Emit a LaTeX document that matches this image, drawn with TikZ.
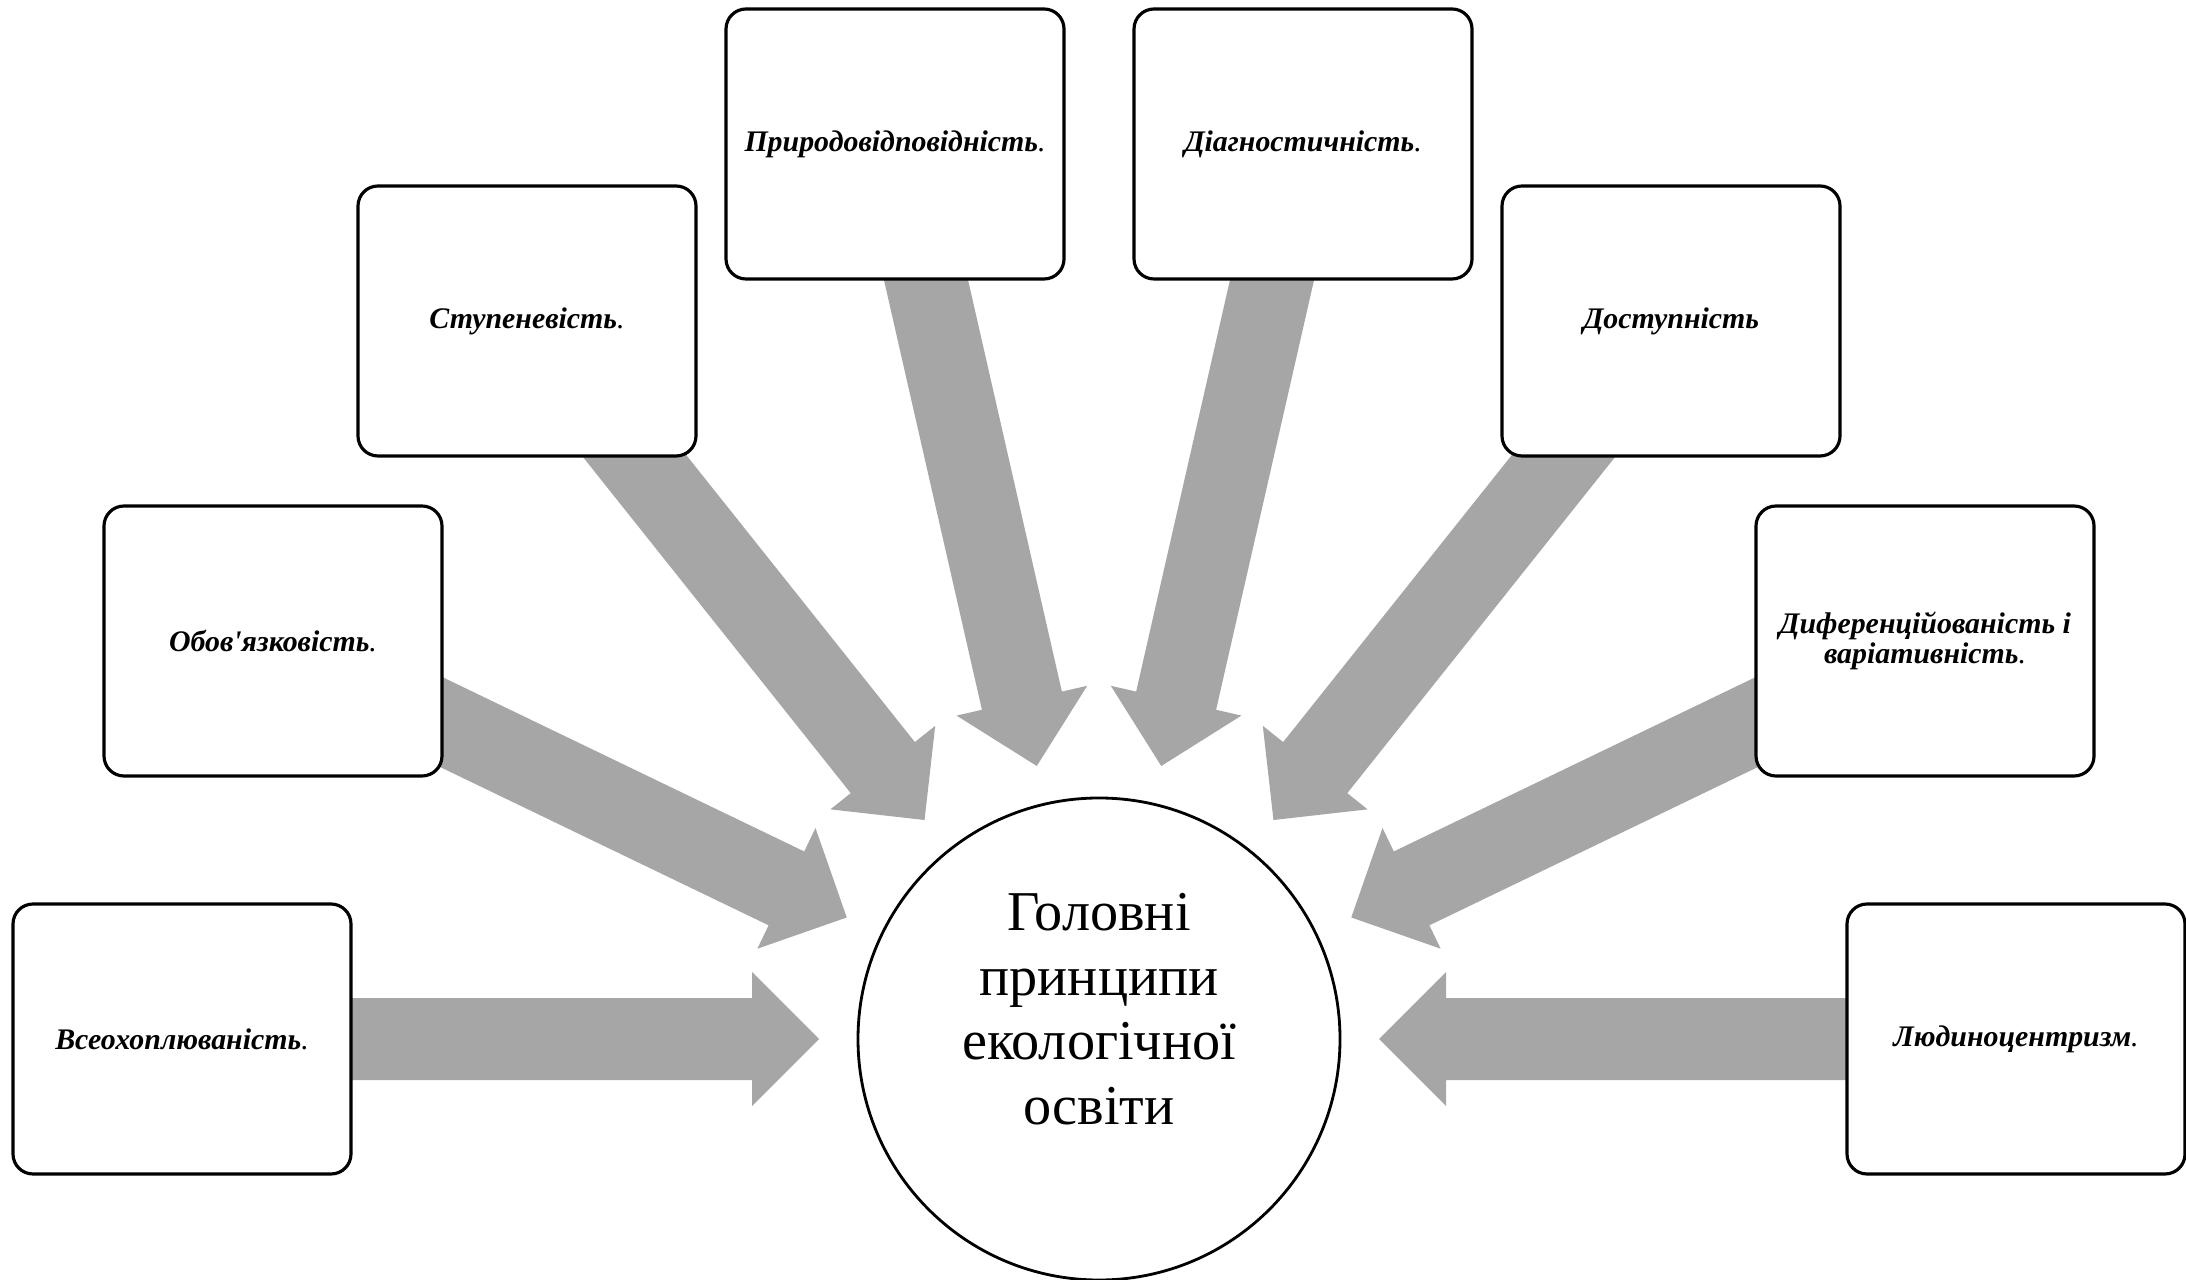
\documentclass[tikz,border=0pt]{standalone}
\usepackage{fontspec}
\setmainfont{Liberation Serif}
\usetikzlibrary{calc}
\usetikzlibrary{backgrounds}
\definecolor{arrowgray}{HTML}{A6A6A6}
\newcommand{\dotend}{\textmd{.}}
\tikzset{
	principle/.style={draw, rectangle, rounded corners=0.2cm, fill=white, line width=0.9pt, minimum width=3.38cm, minimum height=2.70cm, inner sep=2pt, align=center, font=\fontsize{8.5}{7.4}\selectfont\bfseries\itshape},
	hub/.style={draw, circle, fill=white, line width=0.8pt, minimum size=4.82cm, inner sep=0pt},
	title/.style={align=center, inner sep=0pt, font=\fontsize{16}{18.4}\selectfont},
	blockarrow/.style={fill=arrowgray},
}

\begin{document}
\begin{tikzpicture}
	\useasboundingbox (0,0) rectangle (21.86,-12.80);
	
	\node (hub) [hub] at (10.99,-10.39) {};
	\node (hubtext) [title] at ([yshift=0.30cm]hub.center) {Головні\\принципи\\екологічної\\освіти};
	
	\node (p1) [principle] at (1.82,-10.39) {Всеохоплюваність\dotend};
	\node (p2) [principle] at (2.73,-6.41) {Обов\textquotesingle язковість\dotend};
	\node (p3) [principle] at (5.27,-3.21) {Ступеневість\dotend};
	\node (p4) [principle] at (8.95,-1.44) {Природовідповідність\dotend};
	\node (p5) [principle] at (13.03,-1.44) {Діагностичність\dotend};
	\node (p6) [principle] at (16.71,-3.21) {Доступність};
	\node (p7) [principle] at (19.25,-6.41) {Диференційованість і\\варіативність\dotend};
	\node (p8) [principle] at (20.16,-10.39) {Людиноцентризм\dotend};
	
	% block arrows from each box into the circle
	\begin{scope}[on background layer]
		\foreach \i in {1,...,8}
			\fill[blockarrow] ($(hub.center)!2.80cm!(p\i.center)$)
				-- ($(hub.center)!3.47cm!(p\i.center)!0.67cm!90:(p\i.center)$)
				-- ($(hub.center)!3.47cm!(p\i.center)!0.41cm!90:(p\i.center)$)
				-- ($(p\i.center)!0.41cm!-90:(hub.center)$)
				-- ($(p\i.center)!0.41cm!90:(hub.center)$)
				-- ($(hub.center)!3.47cm!(p\i.center)!0.41cm!-90:(p\i.center)$)
				-- ($(hub.center)!3.47cm!(p\i.center)!0.67cm!-90:(p\i.center)$)
				-- cycle;
	\end{scope}
\end{tikzpicture}
\end{document}
